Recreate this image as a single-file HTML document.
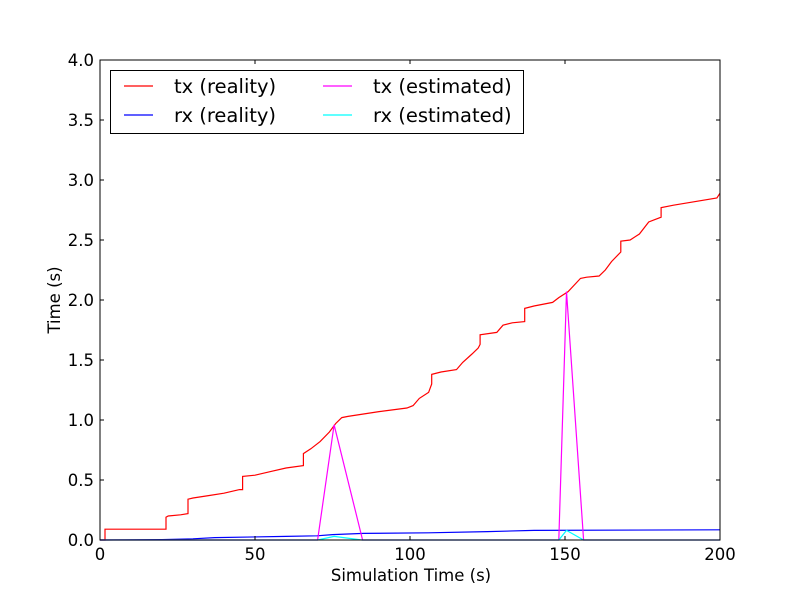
<!DOCTYPE html>
<html><head><meta charset="utf-8"><style>
body{margin:0;background:#fff;}
svg{display:block;font-family:"DejaVu Sans","Liberation Sans",sans-serif;}
</style></head><body>
<svg id="chart" width="800" height="600" xmlns="http://www.w3.org/2000/svg">
<rect x="0" y="0" width="800" height="600" fill="#fff"/>
<g id="plot"></g>
<g id="axes"></g>
</svg>
<script>
const xTicks = [0, 50, 100, 150, 200];
const yTicks = [0.0, 0.5, 1.0, 1.5, 2.0, 2.5, 3.0, 3.5, 4.0];
const txRealX = [0,1.6,1.6,21.3,21.3,22,26,28.4,28.4,30,35,40,45,46,46,50,55,60,65.6,65.6,68,71,74,76,78,80,90,99,101,103,106,107,107,110,115,117,120,122,122.6,122.6,128,130,133,137,137,140,146,148,151,155,157,161,163,165,168,168,171,174,177,179,181,181,185,199,200];
const txRealY = [0,0,0.09,0.09,0.19,0.2,0.21,0.22,0.34,0.35,0.37,0.39,0.42,0.42,0.53,0.54,0.57,0.6,0.62,0.72,0.76,0.82,0.9,0.97,1.02,1.03,1.07,1.1,1.12,1.18,1.23,1.3,1.38,1.4,1.42,1.48,1.55,1.6,1.63,1.71,1.73,1.79,1.81,1.82,1.93,1.95,1.98,2.02,2.07,2.18,2.19,2.2,2.25,2.32,2.4,2.49,2.5,2.55,2.65,2.67,2.69,2.77,2.79,2.85,2.89];
const rxRealX = [0,20,30,37,60,70,75,85,106,125,140,200];
const rxRealY = [0,0.003,0.01,0.02,0.03,0.035,0.045,0.055,0.06,0.07,0.08,0.085];
const txEstX = [0,70.2,75.5,84.7,148,150.5,156,200];
const txEstY = [0,0,0.96,0,0,2.07,0,0];
const rxEstX = [0,70.2,75.5,84.5,148,150.5,156,200];
const rxEstY = [0,0,0.03,0,0,0.08,0,0];

const NS = "http://www.w3.org/2000/svg";
const L=100,R=720,T=60,B=540;
function sx(v){return L+(v-0)/(200-0)*(R-L);}
function sy(v){return B-(v-0)/(4-0)*(B-T);}
function mk(tag,attrs,parent){const e=document.createElementNS(NS,tag);for(const k in attrs)e.setAttribute(k,attrs[k]);parent.appendChild(e);return e;}
const plot=document.getElementById('plot'), axes=document.getElementById('axes');

function series(xs,ys,color,name){
  const p=mk('path',{d:xs.map((x,i)=>(i?'L':'M')+sx(x).toFixed(1)+','+sy(ys[i]).toFixed(1)).join(''),fill:'none',stroke:color,'stroke-width':1.2},plot);
  
  
}
series(txRealX,txRealY,'#ff0000','tx-reality-line');
series(rxRealX,rxRealY,'#0000ff','rx-reality-line');
series(txEstX,txEstY,'#ff00ff','tx-estimated-line');
series(rxEstX,rxEstY,'#00ffff','rx-estimated-line');

const frame=mk('rect',{x:L,y:T,width:R-L,height:B-T,fill:'none',stroke:'#000','stroke-width':1},axes);



xTicks.forEach(v=>{
  const x=sx(v);
  mk('line',{x1:x,y1:B,x2:x,y2:B-4,stroke:'#000'},axes);
  mk('line',{x1:x,y1:T,x2:x,y2:T+4,stroke:'#000'},axes);
  const t=mk('text',{x:x,y:B+20,'text-anchor':'middle','font-size':16.5},axes);
  t.textContent=v;
  
  
});
yTicks.forEach(v=>{
  const y=sy(v);
  mk('line',{x1:L,y1:y,x2:L+4,y2:y,stroke:'#000'},axes);
  mk('line',{x1:R,y1:y,x2:R-4,y2:y,stroke:'#000'},axes);
  const t=mk('text',{x:L-6,y:y+6,'text-anchor':'end','font-size':16.5},axes);
  t.textContent=v.toFixed(1);
  
  
});
const xt=mk('text',{x:411,y:581,'text-anchor':'middle','font-size':16.5},axes);
xt.textContent='Simulation Time (s)';


const yt=mk('text',{x:0,y:0,'text-anchor':'middle','font-size':16.5,transform:'translate(60,300) rotate(-90)'},axes);
yt.textContent='Time (s)';



const leg=mk('g',{},axes);


mk('rect',{x:110.5,y:70.5,width:413,height:63,fill:'#fff',stroke:'#000'},leg);
const entries=[['tx (reality)','#ff0000',124,86],['rx (reality)','#0000ff',124,115],['tx (estimated)','#ff00ff',323,86],['rx (estimated)','#00ffff',323,115]];
entries.forEach(e=>{
  const g=mk('g',{},leg);
  
  
  mk('line',{x1:e[2],y1:e[3],x2:e[2]+29,y2:e[3],stroke:e[1],'stroke-width':1.2},g);
  const t=mk('text',{x:e[2]+50,y:e[3]+7,'font-size':19.5},g);
  t.textContent=e[0];
});
</script>
</body></html>
